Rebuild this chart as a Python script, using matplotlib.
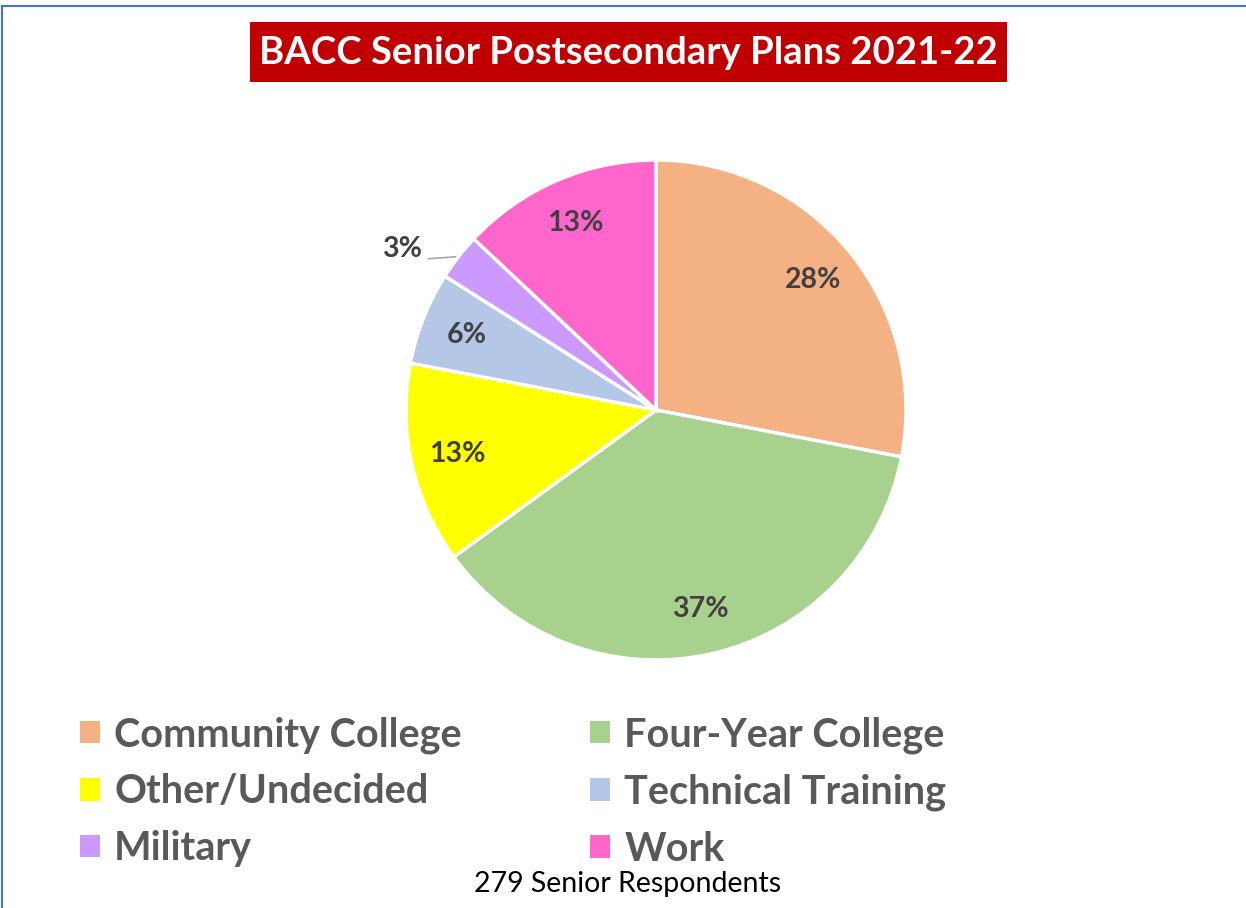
import numpy as np
import matplotlib
matplotlib.use("Agg")
import matplotlib.pyplot as plt
from matplotlib.lines import Line2D
from matplotlib.patches import Rectangle

plt.rcParams["font.family"] = ["Lato", "DejaVu Sans"]

categories = ["Community College", "Four-Year College", "Other/Undecided",
              "Technical Training", "Military", "Work"]
shares = [28, 37, 13, 6, 3, 13]
colors = ["#F4B183", "#A9D18E", "#FFFF00", "#B4C7E7", "#CC99FF", "#FF66CC"]
title = "BACC Senior Postsecondary Plans 2021-22"
note = "279 Senior Respondents"

W, H = 1246, 908
fig = plt.figure(figsize=(W / 100, H / 100), dpi=100)
ax = fig.add_axes([0, 0, 1, 1])
ax.set_xlim(0, W)
ax.set_ylim(0, H)
ax.set_aspect("equal")
ax.axis("off")

# border of the chart area (top and left visible)
fig.add_artist(Line2D([2 / W, 2 / W], [0, 1 - 6 / H], color="#4472C4", lw=1.5))
fig.add_artist(Line2D([2 / W, 1], [1 - 6 / H, 1 - 6 / H], color="#4472C4", lw=1.5))

# title with red box
ax.add_patch(Rectangle((250, H - 82), 757, 60, facecolor="#C00000", edgecolor="none"))
ax.text(628, H - 53, title, ha="center", va="center", color="white",
        fontsize=27.5, fontweight="bold")

cx, cy, R = 656, H - 410, 250
wedges, _ = ax.pie(shares, colors=colors, startangle=90, counterclock=False,
                   center=(cx, cy), radius=R,
                   wedgeprops=dict(edgecolor="white", linewidth=2.5))
ax.set_xlim(0, W)
ax.set_ylim(0, H)

for w, v, name in zip(wedges, shares, categories):
    mid = np.deg2rad((w.theta1 + w.theta2) / 2)
    if name == "Military":
        ex, ey = cx + R * np.cos(mid), cy + R * np.sin(mid)
        ax.plot([ex - 3, ex - 30], [ey, ey - 2], color="#A6A6A6", lw=1.2)
        ax.text(ex - 36, ey + 8, f"{v}%", ha="right", va="center",
                fontsize=20.5, fontweight="bold", color="#404040")
    else:
        d = 0.815 * R
        ax.text(cx + d * np.cos(mid), cy + d * np.sin(mid), f"{v}%",
                ha="center", va="center", fontsize=20.5, fontweight="bold",
                color="#404040")

# legend filled row by row (matplotlib fills column-wise)
order = [0, 2, 4, 1, 3, 5]
leg = ax.legend([wedges[i] for i in order], [categories[i] for i in order],
                ncol=2, loc="upper left",
                bbox_to_anchor=(80 / W, 1 - 716 / H), frameon=False,
                prop=dict(size=28.5, weight="bold"), labelcolor="#595959",
                handlelength=0.5, handleheight=0.5, handletextpad=0.36,
                columnspacing=3.25, labelspacing=0.5, borderaxespad=0,
                borderpad=0)
for h in leg.legend_handles:
    h.set_edgecolor("none")

ax.text(628, H - 884, note, ha="center", va="center", fontsize=20.5, color="black")

fig.savefig("out.png", dpi=100)
